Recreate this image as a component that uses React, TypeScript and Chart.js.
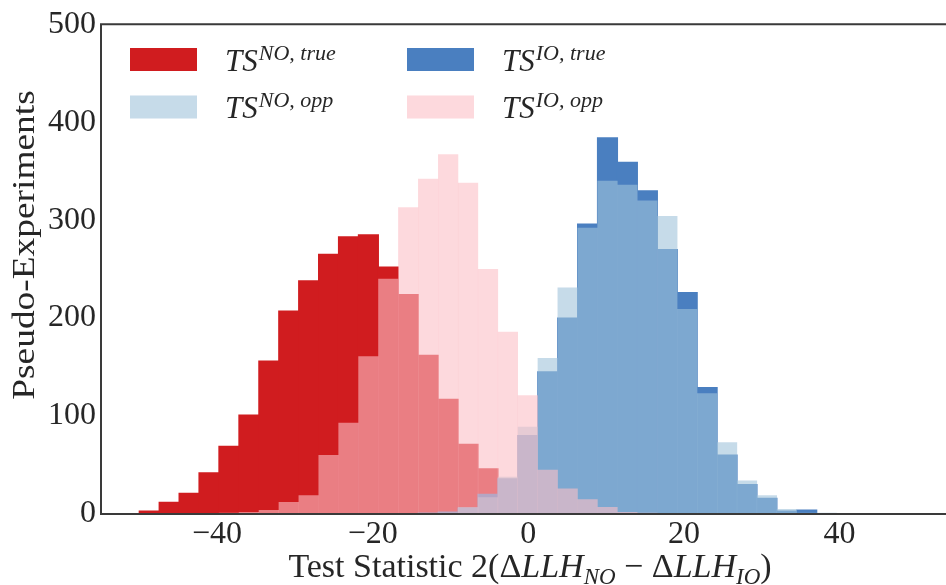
import React, { useEffect, useRef } from "react";
import { Chart, registerables } from "chart.js";

Chart.register(...registerables);

// Bin centres of the common histogram binning (units of the test statistic)
const binCenters = [
  -48.72, -46.16, -43.6, -41.04, -38.48, -35.91, -33.35, -30.79, -28.23, -25.67,
  -23.11, -20.55, -17.99, -15.43, -12.87, -10.3, -7.74, -5.18, -2.62, -0.06,
  2.5, 5.06, 7.62, 10.18, 12.74, 15.31, 17.87, 20.43, 22.99, 25.55,
  28.11, 30.67, 33.23, 35.79, 38.35,
];

const noTrue = [
  3, 12, 21, 42, 69, 101, 156, 207, 238, 265,
  283, 285, 252, 224, 162, 117, 71, 46, 22, 9,
  3, 1, 0, 0, 0, 0, 0, 0, 0, 0,
  0, 0, 0, 0, 0,
];
const noOpp = [
  0, 0, 0, 0, 0, 0, 0, 0, 0, 0,
  0, 0, 0, 0, 0, 1, 7, 17, 38, 89,
  159, 231, 292, 340, 336, 320, 304, 209, 123, 73,
  34, 19, 5, 1, 1,
];
const ioTrue = [
  0, 0, 0, 0, 0, 0, 0, 0, 0, 0,
  0, 0, 0, 0, 1, 2, 6, 20, 36, 80,
  145, 200, 296, 384, 359, 330, 270, 226, 129, 60,
  30, 16, 3, 4, 0,
];
const ioOpp = [
  0, 0, 0, 0, 1, 2, 4, 12, 19, 60,
  93, 161, 240, 313, 342, 367, 338, 250, 186, 121,
  45, 26, 15, 7, 2, 1, 0, 0, 0, 0,
  0, 0, 0, 0, 0,
];

const xTicks = [-40, -20, 0, 20, 40];
const yTicks = [0, 100, 200, 300, 400, 500];

const legendSups = ["NO, true", "NO, opp", "IO, true", "IO, opp"];

const C_NO_TRUE = "rgb(208,28,31)";
const C_NO_OPP = "rgba(160,195,218,0.6)";
const C_IO_TRUE = "rgb(74,127,192)";
const C_IO_OPP = "rgba(252,192,198,0.6)";
const legendColors = [C_NO_TRUE, C_NO_OPP, C_IO_TRUE, C_IO_OPP];

const SERIF = '"Liberation Serif", "Times New Roman", serif';
const TXT = "#262626";

type Seg = { t: string; it?: boolean; s: number; dy?: number };

function segWidth(ctx: CanvasRenderingContext2D, segs: Seg[]) {
  let w = 0;
  for (const g of segs) {
    ctx.font = `${g.it ? "italic " : ""}${g.s}px ${SERIF}`;
    w += ctx.measureText(g.t).width;
  }
  return w;
}
function drawSegs(ctx: CanvasRenderingContext2D, segs: Seg[], x: number, y: number) {
  let cx = x;
  ctx.textBaseline = "alphabetic";
  ctx.textAlign = "left";
  for (const g of segs) {
    ctx.font = `${g.it ? "italic " : ""}${g.s}px ${SERIF}`;
    ctx.fillText(g.t, cx, y + (g.dy || 0));
    cx += ctx.measureText(g.t).width;
  }
}

const overlay = {
  id: "overlay",
  afterDatasetsDraw(chart: any) {
    const { ctx, chartArea } = chart;
    ctx.save();
    ctx.strokeStyle = "#3a3a3a";
    ctx.lineWidth = 2;
    ctx.beginPath();
    ctx.moveTo(chartArea.right + 5, chartArea.top);
    ctx.lineTo(chartArea.left, chartArea.top);
    ctx.lineTo(chartArea.left, chartArea.bottom);
    ctx.lineTo(chartArea.right + 5, chartArea.bottom);
    ctx.stroke();

    // legend
    const cols = [130, 407];
    const textX = [225, 502];
    const rows = [48, 95.5];
    const base = [71, 118];
    for (let i = 0; i < 4; i++) {
      const col = Math.floor(i / 2);
      const row = i % 2;
      ctx.fillStyle = legendColors[i];
      ctx.fillRect(cols[col], rows[row], 67, 23);
      ctx.fillStyle = TXT;
      drawSegs(
        ctx,
        [
          { t: "TS", it: true, s: 31 },
          { t: " ", s: 4 },
          { t: legendSups[i], it: true, s: 22, dy: -11 },
        ],
        textX[col],
        base[row]
      );
    }

    // x title
    ctx.fillStyle = TXT;
    const segs: Seg[] = [
      { t: "Test Statistic 2(", s: 34 },
      { t: "\u0394", s: 34 },
      { t: "LLH", it: true, s: 34 },
      { t: "NO", it: true, s: 23, dy: 7 },
      { t: " \u2212 ", s: 34 },
      { t: "\u0394", s: 34 },
      { t: "LLH", it: true, s: 34 },
      { t: "IO", it: true, s: 23, dy: 7 },
      { t: ")", s: 34 },
    ];
    const w = segWidth(ctx, segs);
    drawSegs(ctx, segs, 530 - w / 2, 577);

    // y title
    ctx.translate(26, 245);
    ctx.rotate(-Math.PI / 2);
    ctx.scale(1.1, 0.92);
    ctx.font = `34px ${SERIF}`;
    ctx.textAlign = "center";
    ctx.textBaseline = "middle";
    ctx.fillText("Pseudo-Experiments", 0, 0);
    ctx.restore();
  },
};

export default function App() {
  const ref = useRef<HTMLCanvasElement>(null);
  useEffect(() => {
    if (!ref.current) return;
    const mk = (vals: number[]) => binCenters.map((x, i) => ({ x, y: vals[i] }));
    const common = {
      grouped: false,
      barPercentage: 1,
      categoryPercentage: 1,
      borderWidth: 0,
    };
    const chart = new Chart(ref.current, {
      type: "bar",
      data: {
        datasets: [
          { label: "TS^{NO,true}", data: mk(noTrue), backgroundColor: C_NO_TRUE, order: 3, inflateAmount: 0.6, ...common },
          { label: "TS^{NO,opp}", data: mk(noOpp), backgroundColor: C_NO_OPP, order: 1, inflateAmount: 0.15, ...common },
          { label: "TS^{IO,true}", data: mk(ioTrue), backgroundColor: C_IO_TRUE, order: 2, inflateAmount: 0.6, ...common },
          { label: "TS^{IO,opp}", data: mk(ioOpp), backgroundColor: C_IO_OPP, order: 0, inflateAmount: 0.15, ...common },
        ] as any,
      },
      options: {
        animation: false,
        responsive: false,
        devicePixelRatio: 1,
        events: [],
        layout: { padding: { top: 19, left: 0, right: 0, bottom: 0 } },
        plugins: { legend: { display: false }, tooltip: { enabled: false } },
        scales: {
          x: {
            type: "linear",
            offset: false,
            min: -54.92,
            max: 53.69,
            grid: { display: false, drawTicks: false, offset: false },
            border: { display: false },
            afterBuildTicks: (s: any) => {
              s.ticks = xTicks.map((v) => ({ value: v }));
            },
            afterFit: (s: any) => {
              s.height = 71;
            },
            ticks: {
              autoSkip: false,
              maxRotation: 0,
              padding: 1,
              color: TXT,
              font: { family: SERIF, size: 32 },
              callback: (v: any) => (v < 0 ? "\u2212" + Math.abs(v) : String(v)),
            },
          },
          y: {
            min: 0,
            max: 500,
            grid: { display: false, drawTicks: false },
            border: { display: false },
            afterBuildTicks: (s: any) => {
              s.ticks = yTicks.map((v) => ({ value: v }));
            },
            afterFit: (s: any) => {
              s.width = 101;
            },
            ticks: {
              padding: 5,
              color: TXT,
              font: { family: SERIF, size: 32 },
            },
          },
        },
      },
      plugins: [overlay],
    });
    return () => chart.destroy();
  }, []);
  return (
    <div style={{ position: "absolute", left: 0, top: 0, width: 946, height: 585, background: "#fff" }}>
      <canvas ref={ref} width={946} height={585} style={{ width: 946, height: 585, display: "block" }} />
    </div>
  );
}
